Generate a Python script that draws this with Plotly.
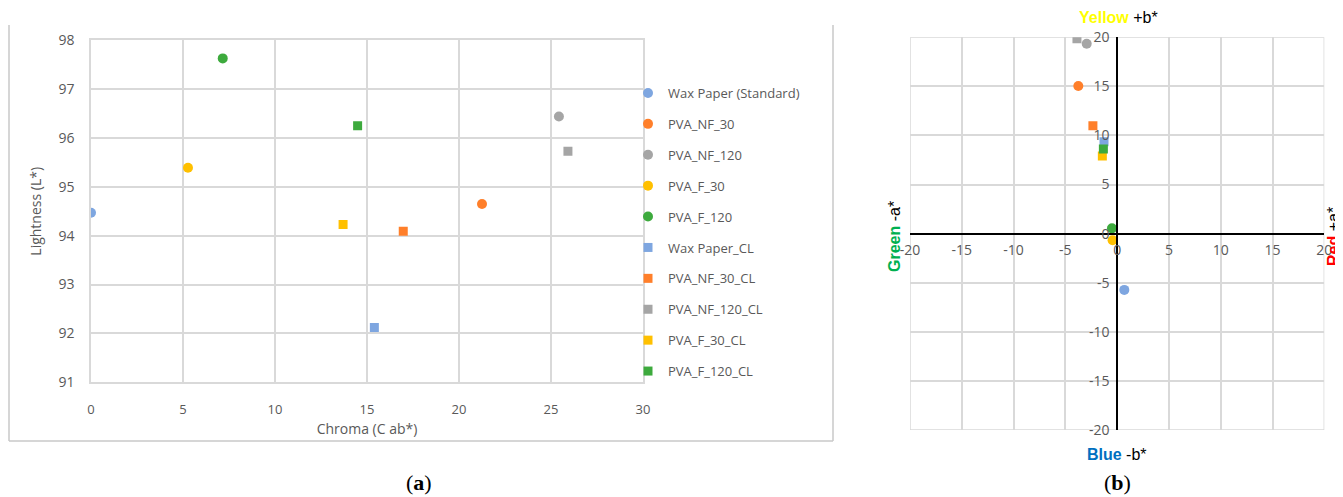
import plotly.graph_objects as go

# page is 1343x497 but the HTML body has an 8px margin -> draw into the visible area
PAGE_W, PAGE_H = 1343, 497
OFF = 8
W, H = PAGE_W - OFF, PAGE_H - OFF

# ---------------- data ----------------
series_names = ["Wax Paper (Standard)", "PVA_NF_30", "PVA_NF_120", "PVA_F_30", "PVA_F_120",
                "Wax Paper_CL", "PVA_NF_30_CL", "PVA_NF_120_CL", "PVA_F_30_CL", "PVA_F_120_CL"]
series_colors = ["#7EA6E0", "#FF7F2A", "#A5A5A5", "#FFC000", "#3DAA3D",
                 "#7EA6E0", "#FF7F2A", "#A5A5A5", "#FFC000", "#3DAA3D"]
series_symbols = ["circle"] * 5 + ["square"] * 5

chroma = [0.0, 21.25, 25.43, 5.27, 7.16, 15.4, 16.97, 25.92, 13.7, 14.49]
lightness = [94.47, 94.65, 96.44, 95.39, 97.63, 92.12, 94.09, 95.73, 94.23, 96.25]

a_star = [0.69, -3.75, -2.94, -0.44, -0.5, -1.27, -2.34, -3.88, -1.43, -1.33]
b_star = [-5.73, 15.04, 19.35, -0.68, 0.54, 9.37, 11.0, 19.86, 7.91, 8.63]

x1_ticks = [0, 5, 10, 15, 20, 25, 30]
y1_ticks = [91, 92, 93, 94, 95, 96, 97, 98]
ab_ticks = [-20, -15, -10, -5, 0, 5, 10, 15, 20]
ab_ticktext = ["-20", "-15", "-10", "-5", "0", "5", "10", "15", "20"]

# ---------------- layout geometry (page pixels -> paper) ----------------
def px(x):
    return (x - OFF) / W

def py(y):
    return 1 - (y - OFF) / H

L_x0, L_x1, L_y0, L_y1 = 91, 643, 40.3, 382.3
R_x0, R_x1, R_y0, R_y1 = 910, 1324.3, 37.3, 430

grey_txt = "#595959"
grid_c = "#D9D9D9"
font_fam = "Open Sans, Liberation Sans, sans-serif"

fig = go.Figure()

for i, name in enumerate(series_names):
    msize = 10 if series_symbols[i] == "circle" else 9
    fig.add_trace(go.Scatter(
        x=[chroma[i]], y=[lightness[i]], mode="markers", name=name,
        marker=dict(color=series_colors[i], symbol=series_symbols[i], size=msize,
                    line=dict(width=0)),
        xaxis="x", yaxis="y", legendgroup=name, showlegend=True))

for i, name in enumerate(series_names):
    msize = 10 if series_symbols[i] == "circle" else 9
    fig.add_trace(go.Scatter(
        x=[a_star[i]], y=[b_star[i]], mode="markers", name=name,
        marker=dict(color=series_colors[i], symbol=series_symbols[i], size=msize,
                    line=dict(width=0)),
        xaxis="x2", yaxis="y2", legendgroup=name, showlegend=False))

fig.update_layout(
    width=W, height=H,
    margin=dict(l=0, r=0, t=0, b=0, autoexpand=False),
    paper_bgcolor="white", plot_bgcolor="white",
    font=dict(family=font_fam, size=13, color=grey_txt),
    xaxis=dict(domain=[px(L_x0), px(L_x1)], range=[0, 30], tickvals=x1_ticks,
               showgrid=True, gridcolor=grid_c, gridwidth=1.5, automargin=False,
               zeroline=False, showline=True, linecolor=grid_c, linewidth=1.5, mirror=True,
               ticks="", ticklabelstandoff=14, anchor="y",
               title=dict(text="Chroma (C ab*)", standoff=8, font=dict(size=14, color=grey_txt))),
    yaxis=dict(domain=[py(L_y1), py(L_y0)], range=[91, 98], tickvals=y1_ticks,
               showgrid=True, gridcolor=grid_c, gridwidth=1.5, automargin=False,
               zeroline=False, showline=True, linecolor=grid_c, linewidth=1.5, mirror=True,
               ticks="", ticklabelstandoff=12, anchor="x", tickfont=dict(size=14),
               title=dict(text="Lightness (L*)", standoff=14, font=dict(size=14, color=grey_txt))),
    xaxis2=dict(domain=[px(R_x0), px(R_x1)], range=[-20, 20],
                tickvals=ab_ticks, ticktext=ab_ticktext,
                showgrid=True, gridcolor=grid_c, gridwidth=1.5, automargin=False,
                zeroline=False, showline=True, linecolor="black", linewidth=1.5,
                anchor="free", position=(py(R_y1) + py(R_y0)) / 2,
                ticks="", ticklabelstandoff=4, tickfont=dict(size=14, color=grey_txt)),
    yaxis2=dict(domain=[py(R_y1), py(R_y0)], range=[-20, 20],
                tickvals=ab_ticks, ticktext=ab_ticktext,
                showgrid=True, gridcolor=grid_c, gridwidth=1.5, automargin=False,
                zeroline=False, showline=True, linecolor="black", linewidth=1.5,
                anchor="free", position=(px(R_x0) + px(R_x1)) / 2,
                ticks="", ticklabelstandoff=4, tickfont=dict(size=14, color=grey_txt)),
    legend=dict(x=px(628), y=py(78), xanchor="left", yanchor="top",
                font=dict(size=13, color=grey_txt), tracegroupgap=11,
                bgcolor="rgba(0,0,0,0)"),
    showlegend=True,
)

# frame of right plot area
fig.add_shape(type="rect", xref="x2", yref="y2", x0=-20, x1=20, y0=-20, y1=20,
              line=dict(color=grid_c, width=1.5), layer="below")

# outer chart-area border of left chart (left, right, bottom)
border_c = "#C8C8C8"
for (xa, ya, xb, yb) in [(9, 25, 9, 441), (833, 25, 833, 441), (9, 441, 833, 441)]:
    fig.add_shape(type="line", xref="paper", yref="paper",
                  x0=px(xa), y0=py(ya), x1=px(xb), y1=py(yb),
                  line=dict(color=border_c, width=1.5))

lab_font = "Liberation Sans, Arial, sans-serif"
annots = [
    dict(x=px(1118), y=py(17), text="<b><span style='color:#FFFF00'>Yellow</span></b> +b*",
         font=dict(size=16, color="black", family=lab_font)),
    dict(x=px(1117), y=py(454), text="<b><span style='color:#0070C0'>Blue</span></b> -b*",
         font=dict(size=16, color="black", family=lab_font)),
    dict(x=px(894), y=py(237), text="<b><span style='color:#00B050'>Green</span></b> -a*",
         textangle=-90, font=dict(size=16, color="black", family=lab_font)),
    dict(x=px(1333), y=py(237), text="<b><span style='color:#FF0000'>Red</span></b> +a*",
         textangle=-90, font=dict(size=16, color="black", family=lab_font)),
    dict(x=px(419), y=py(482), text="(<b>a</b>)",
         font=dict(size=22, color="black", family="Liberation Serif, DejaVu Serif, serif")),
    dict(x=px(1117), y=py(482), text="(<b>b</b>)",
         font=dict(size=22, color="black", family="Liberation Serif, DejaVu Serif, serif")),
]
for a in annots:
    fig.add_annotation(xref="paper", yref="paper", showarrow=False,
                       xanchor="center", yanchor="middle", **a)

fig.write_html("out.html")
